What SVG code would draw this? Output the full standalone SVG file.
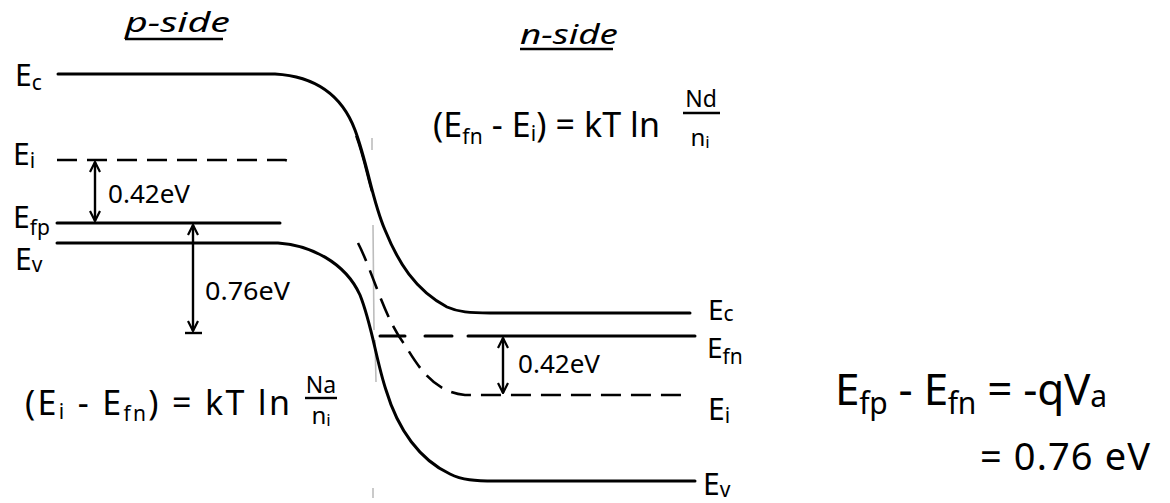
<svg xmlns="http://www.w3.org/2000/svg" width="1170" height="503" viewBox="0 0 1170 503">
<style>
text{font-family:"Noto Sans","DejaVu Sans",sans-serif;fill:#000}
.lbl{font-size:30px}
.sub{font-size:21px}
.val{font-size:25px}
.eq{font-size:34px}
.big{font-size:44px}
.band{fill:none;stroke:#000;stroke-width:3;stroke-linecap:round}
.dash{fill:none;stroke:#000;stroke-width:2.6;stroke-dasharray:20 10}
.arr{fill:none;stroke:#000;stroke-width:2.4}
.faint{fill:none;stroke:#bdbdbd;stroke-width:1.6}
</style>
<defs>
<marker id="ah" viewBox="0 0 12 12" refX="11" refY="6" markerWidth="12" markerHeight="12" markerUnits="userSpaceOnUse" orient="auto-start-reverse">
<path d="M1,1 L11,6 L1,11" fill="none" stroke="#000" stroke-width="2.2"/>
</marker>
</defs>

<g id="headings">
<text x="125" y="32" font-size="28" font-style="italic" textLength="105" lengthAdjust="spacingAndGlyphs">p-side</text>
<line x1="125" y1="39" x2="223" y2="39" stroke="#000" stroke-width="2.4"/>
<text x="520" y="44" font-size="28" font-style="italic" textLength="98" lengthAdjust="spacingAndGlyphs">n-side</text>
<line x1="520" y1="49" x2="613" y2="49" stroke="#000" stroke-width="2.4"/>
</g>

<g id="connectors">
<path class="faint" d="M372,138 L372,150 M373,225 L374,330 M375,340 L376,382 M373,488 L373,498"/>
<path class="band" d="M58,74 L275,74 C310,76 340,90 355,130 C368,165 372,200 385,230 C398,262 415,290 447,307 C458,312 470,313 490,313 L690,313"/>
<path fill="none" stroke="#000" stroke-width="2" d="M356,136 C364,158 368,180 372,192"/>
<path class="band" d="M57,243 L278,243 C310,245 345,262 360,295 C372,325 376,360 386,390 C398,430 420,460 450,474 C462,480 475,481 495,481 L695,481"/>
<path class="band" d="M57,223 L280,223"/>
<path class="dash" d="M57,160 L285,160 Q290,161 295,164"/>
<path class="dash" d="M358,243 C372,270 385,320 405,345 C420,370 435,392 465,395 L690,395" stroke-dasharray="18 11"/>
<path class="band" d="M380,336 L405,336 M425,336 L452,336"/>
<path class="band" d="M468,336 L695,336"/>
<line class="arr" x1="95" y1="162" x2="95" y2="221" marker-start="url(#ah)" marker-end="url(#ah)"/>
<line class="arr" x1="193" y1="225" x2="193" y2="331" marker-start="url(#ah)" marker-end="url(#ah)"/>
<line x1="185" y1="333" x2="202" y2="333" stroke="#000" stroke-width="2.4"/>
<line class="arr" x1="503" y1="338" x2="503" y2="393" marker-start="url(#ah)" marker-end="url(#ah)"/>
</g>

<g id="label-Ec-p"><text class="lbl" x="15" y="86">E<tspan class="sub" dy="4">c</tspan></text></g>
<g id="label-Ei-p"><text class="lbl" x="13" y="165">E<tspan class="sub" dy="3">i</tspan></text></g>
<g id="label-Efp"><text class="lbl" x="13" y="228">E<tspan class="sub" dy="7">fp</tspan></text></g>
<g id="label-Ev-p"><text class="lbl" x="15" y="270">E<tspan class="sub" dy="2">v</tspan></text></g>

<g id="label-Ec-n"><text x="708" y="320" font-size="28">E<tspan class="sub" font-size="19" dy="1">c</tspan></text></g>
<g id="label-Efn"><text x="707" y="358" font-size="28">E<tspan class="sub" font-size="20" dy="6">fn</tspan></text></g>
<g id="label-Ei-n"><text class="lbl" x="708" y="420">E<tspan class="sub" dy="3">i</tspan></text></g>
<g id="label-Ev-n"><text class="lbl" x="703" y="495">E<tspan class="sub" dy="2">v</tspan></text></g>

<g id="val-042-p"><text class="val" x="108" y="203" textLength="82" lengthAdjust="spacingAndGlyphs">0.42eV</text></g>
<g id="val-076"><text class="val" x="205" y="300" textLength="85" lengthAdjust="spacingAndGlyphs">0.76eV</text></g>
<g id="val-042-n"><text class="val" x="518" y="373" font-size="23" textLength="82" lengthAdjust="spacingAndGlyphs">0.42eV</text></g>

<g id="eq-p">
<text class="eq" x="25" y="415" textLength="265" lengthAdjust="spacing">(E<tspan class="sub" dy="4">i</tspan><tspan dy="-4"> - E</tspan><tspan class="sub" dy="6">fn</tspan><tspan dy="-6">) = kT ln</tspan></text>
<text x="321" y="393" font-size="23" text-anchor="middle">Na</text>
<line x1="305" y1="398" x2="337" y2="398" stroke="#000" stroke-width="2.4"/>
<text x="321" y="424" font-size="24" text-anchor="middle">n<tspan font-size="17" dy="2">i</tspan></text>
</g>

<g id="eq-n">
<text class="eq" x="433" y="137" textLength="227" lengthAdjust="spacing">(E<tspan class="sub" dy="7">fn</tspan><tspan dy="-7"> - E</tspan><tspan class="sub" dy="4">i</tspan><tspan dy="-4">) = kT ln</tspan></text>
<text x="701" y="107" font-size="23" text-anchor="middle">Nd</text>
<line x1="683" y1="113" x2="720" y2="113" stroke="#000" stroke-width="2.4"/>
<text x="700" y="146" font-size="24" text-anchor="middle">n<tspan font-size="17" dy="2">i</tspan></text>
</g>

<g id="eq-va">
<text class="big" x="835" y="405" textLength="272" lengthAdjust="spacing">E<tspan font-size="30" dy="9">fp</tspan><tspan dy="-9"> - E</tspan><tspan font-size="30" dy="9">fn</tspan><tspan dy="-9"> = -qV</tspan><tspan font-size="30" dy="2">a</tspan></text>
<text x="980" y="470" font-size="38" textLength="170" lengthAdjust="spacing">= 0.76 eV</text>
</g>
</svg>
